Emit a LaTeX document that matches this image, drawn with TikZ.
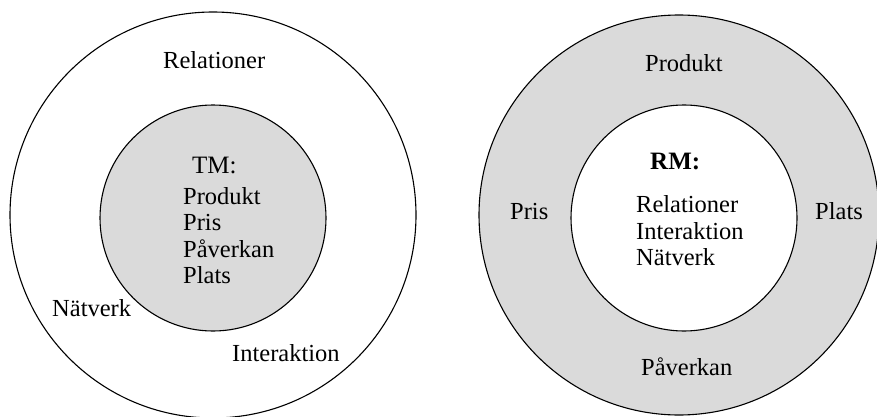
\documentclass[tikz,border=0pt]{standalone}
\usepackage{fontspec}
\setmainfont{Liberation Serif}
\definecolor{ringgray}{HTML}{DADADA}
\begin{document}
\begin{tikzpicture}[x=1pt,y=-1pt,
  ring/.style={draw=black,line width=1.1pt},
  lbl/.style={inner sep=0pt,anchor=base west,font=\fontsize{24.5}{27}\selectfont},
  hd/.style={lbl,font=\fontsize{25}{27}\selectfont\bfseries}]
\useasboundingbox (0,0) rectangle (877,417);
% left diagram
\draw[ring,fill=white] (213,215) circle (203);
\draw[ring,fill=ringgray] (213,218) circle (113);
\node[lbl] (lrel) at (163,69) {Relationer};
\node[lbl,font=\fontsize{25}{27}\selectfont] (ltm) at (192,173) {TM:};
\node[lbl] (lprod) at (183,204) {Produkt};
\node[lbl] (lpris) at (183,230) {Pris};
\node[lbl] (lpav) at (183,257) {Påverkan};
\node[lbl] (lplats) at (183,283) {Plats};
\node[lbl] (lnat) at (52,316) {Nätverk};
\node[lbl] (lint) at (232,361) {Interaktion};
% right diagram
\draw[ring,fill=ringgray] (679,215) circle (200);
\draw[ring,fill=white] (684,218) circle (113);
\node[lbl] (rprod) at (645,72) {Produkt};
\node[lbl] (rpris) at (510,219) {Pris};
\node[lbl] (rplats) at (815,219) {Plats};
\node[hd] (rrm) at (650,169) {RM:};
\node[lbl] (rrel) at (636,212) {Relationer};
\node[lbl] (rint) at (636,239) {Interaktion};
\node[lbl] (rnat) at (636,265) {Nätverk};
\node[lbl] (rpav) at (641,375) {Påverkan};
\end{tikzpicture}
\end{document}
